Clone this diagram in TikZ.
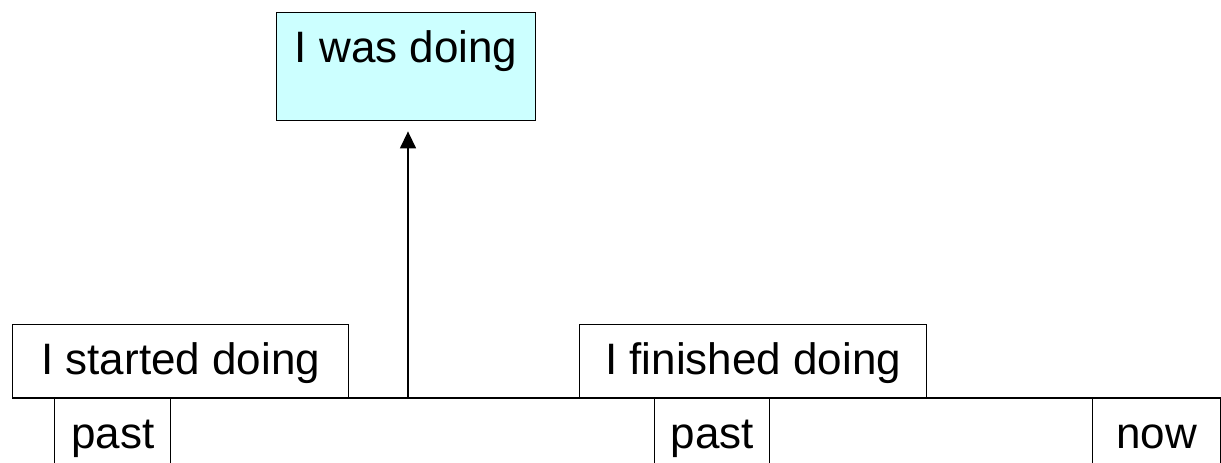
\documentclass[tikz,border=0pt]{standalone}
\usepackage{fontspec}
\setmainfont{Liberation Sans}
\usetikzlibrary{arrows.meta}
\definecolor{paleCyan}{HTML}{CCFFFF}
\tikzset{
  frame/.style={draw=black, line width=1.4pt, inner sep=0pt, font=\fontsize{44}{50}\selectfont},
  topbox/.style={frame, anchor=north west, text height=50pt, text depth=24pt},
  lowbox/.style={frame, anchor=north west, text height=50pt, text depth=22pt},
  line/.style={draw=black, line width=1.4pt}
}
\begin{document}
\begin{tikzpicture}[x=1pt,y=-1pt]
\useasboundingbox (0,0) rectangle (1221,463);
% timeline
\coordinate (tl) at (12,398);
\coordinate (tr) at (1221,398);
\coordinate (tm) at (408,398);
\draw[line] (tl) -- (tr);
% upper box
\node[frame, fill=paleCyan, anchor=north west, minimum width=259pt, text height=50pt, text depth=58pt] (was) at (276,12) {I was doing};
% top boxes
\node[topbox, minimum width=336pt] (start) at (12,324) {I started doing};
\node[topbox, minimum width=347pt] (finish) at (579,324) {I finished doing};
% lower boxes
\node[lowbox, minimum width=116pt] (past1) at (54,398) {past};
\node[lowbox, minimum width=115pt] (past2) at (654,398) {past};
\node[lowbox, minimum width=128pt] (now) at (1092,398) {now};
% arrow
\draw[line, -{Triangle[length=17pt,width=16pt]}, shorten >=10pt] (tm) -- (tm |- was.south);
\end{tikzpicture}
\end{document}
